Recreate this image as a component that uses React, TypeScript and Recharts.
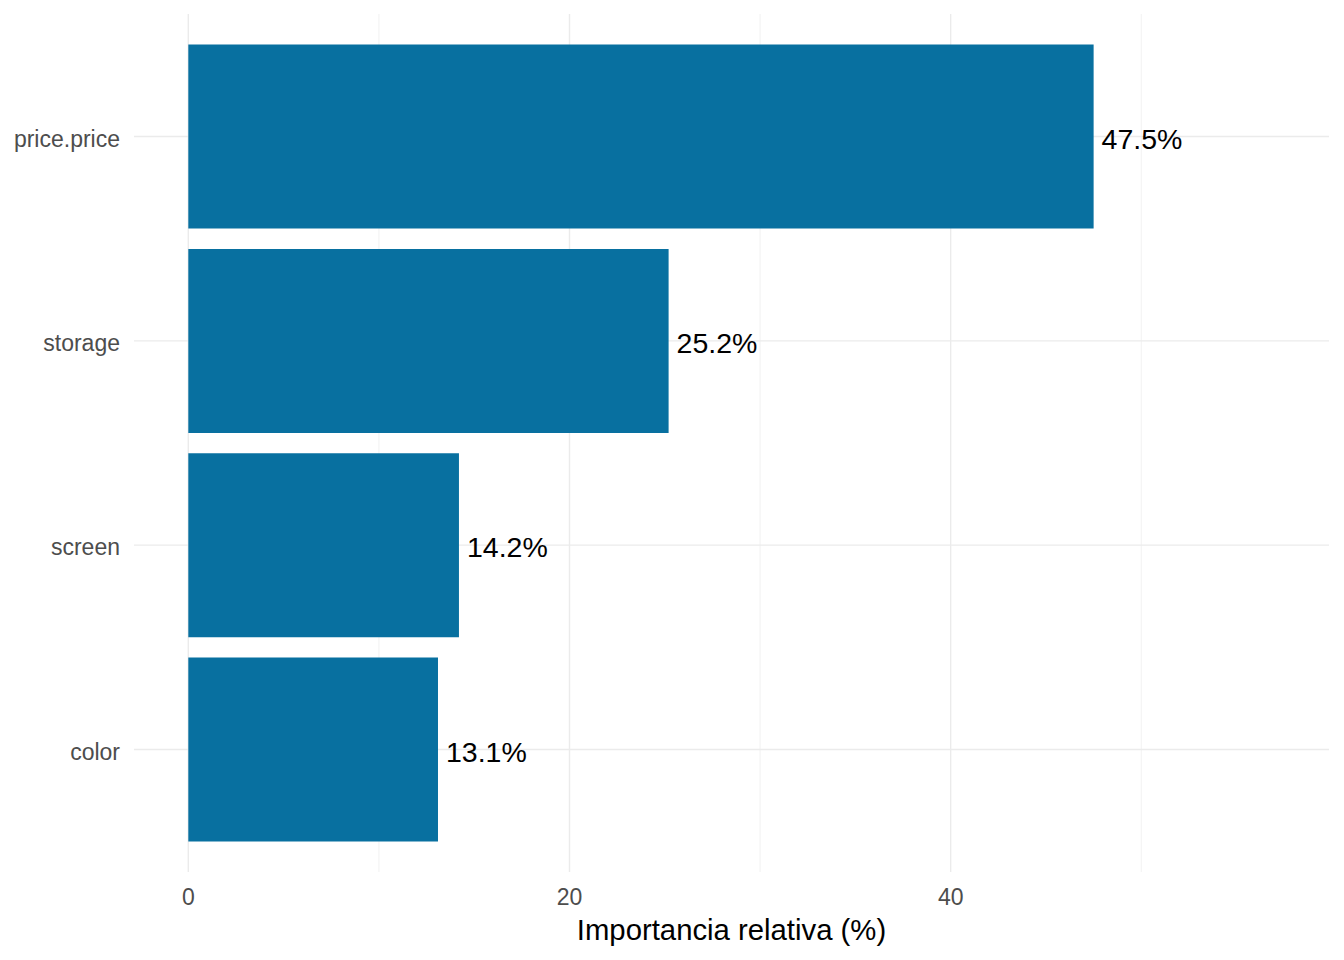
import React from "react";
import {
  BarChart, Bar, XAxis, YAxis, CartesianGrid, LabelList,
} from "recharts";

const categories = ["price.price", "storage", "screen", "color"];
const importance = [47.5, 25.2, 14.2, 13.1];
const majorTicks = [0, 20, 40];
const minorTicks = [10, 30, 50];
const xDomain = [-2.85, 59.85];

const data = categories.map((name, i) => ({ name, value: importance[i] }));

const FONT = "'Liberation Sans', Arial, Helvetica, sans-serif";
const GRID = "#ebebeb";

export default function App() {
  return (
    <div style={{ position: "absolute", left: 0, top: 0, width: 1344, height: 960, background: "#fff", fontFamily: FONT }}>
      <BarChart
        width={1344}
        height={960}
        data={data}
        layout="vertical"
        margin={{ top: 14, right: 15, bottom: 0, left: 0 }}
        barCategoryGap="5%"
      >
        {/* minor vertical grid (10, 30, 50) from a hidden axis */}
        <CartesianGrid xAxisId="minor" stroke={GRID} strokeWidth={0.7} horizontal={false} syncWithTicks />
        <CartesianGrid stroke={GRID} strokeWidth={1.4} syncWithTicks />
        <XAxis xAxisId="minor" type="number" domain={xDomain} allowDataOverflow ticks={minorTicks} hide />
        <XAxis
          type="number"
          domain={xDomain}
          allowDataOverflow
          ticks={majorTicks}
          height={88}
          axisLine={false}
          tickLine={false}
          tickMargin={11}
          tick={{ fill: "#4d4d4d", fontSize: 23, fontFamily: FONT }}
          label={{ value: "Importancia relativa (%)", position: "insideBottom", offset: 20, fill: "#000", fontSize: 29.3, fontFamily: FONT }}
        />
        <YAxis
          type="category"
          dataKey="name"
          width={134}
          axisLine={false}
          tickLine={false}
          tickMargin={8}
          padding={{ top: 20.4, bottom: 20.4 }}
          tick={{ fill: "#4d4d4d", fontSize: 23, fontFamily: FONT, dy: 2 }}
        />
        <Bar dataKey="value" fill="#0870a0" isAnimationActive={false}>
          <LabelList
            dataKey="value"
            position="right"
            offset={8}
            dy={2}
            formatter={(v: any) => `${Number(v).toFixed(1)}%`}
            style={{ fill: "#000", fontSize: 28.5, fontFamily: FONT }}
          />
        </Bar>
      </BarChart>
    </div>
  );
}
